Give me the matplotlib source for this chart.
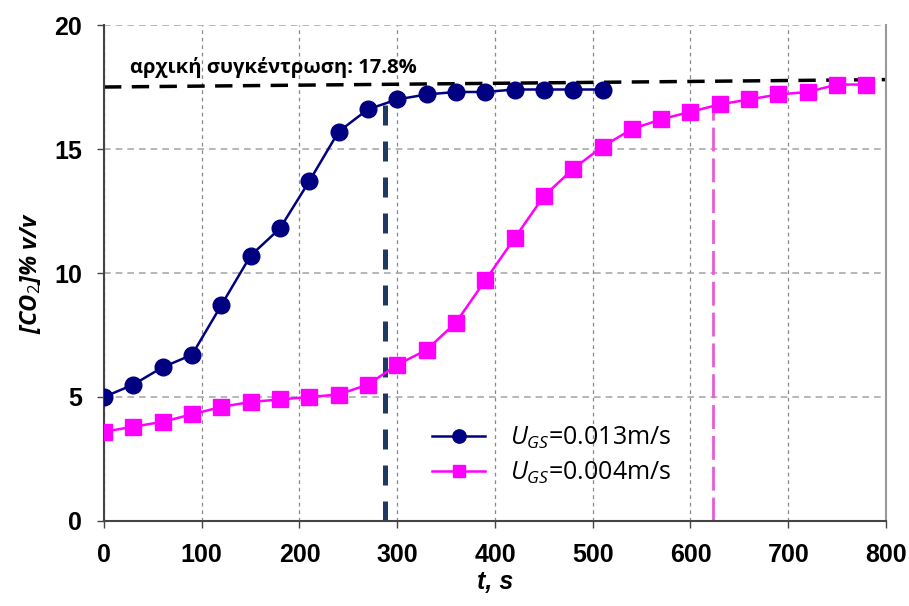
import matplotlib.pyplot as plt

plt.rcParams['mathtext.fontset'] = 'custom'
plt.rcParams['mathtext.it'] = 'Open Sans:italic'
plt.rcParams['mathtext.rm'] = 'Open Sans'
plt.rcParams['mathtext.bf'] = 'Open Sans:bold'

# time (s) and CO2 concentration (% v/v)
t_fast = [0, 30, 60, 90, 120, 150, 180, 210, 240, 270, 300, 330, 360, 390, 420, 450, 480, 510]
co2_fast = [5.0, 5.5, 6.2, 6.7, 8.7, 10.7, 11.8, 13.7, 15.7, 16.6, 17.0, 17.2, 17.3, 17.3, 17.4, 17.4, 17.4, 17.4]

t_slow = [0, 30, 60, 90, 120, 150, 180, 210, 240, 270, 300, 330, 360, 390, 420, 450, 480,
          510, 540, 570, 600, 630, 660, 690, 720, 750, 780]
co2_slow = [3.6, 3.8, 4.0, 4.3, 4.6, 4.8, 4.9, 5.0, 5.1, 5.5, 6.3, 6.9, 8.0, 9.7, 11.4, 13.1, 14.2,
            15.1, 15.8, 16.2, 16.5, 16.8, 17.0, 17.2, 17.3, 17.6, 17.6]

init_x = [0, 800]
init_y = [17.5, 17.8]
t_break_fast = 287
t_break_slow = 623
level_fast = 17.0
level_slow = 16.8

fig = plt.figure(figsize=(9.09, 6.06), dpi=100)
ax = fig.add_axes([0.1144, 0.1403, 0.8603, 0.8184])

ax.set_xlim(0, 800)
ax.set_ylim(0, 20)
ax.set_xticks(range(0, 801, 100))
ax.set_yticks(range(0, 21, 5))

ax.grid(axis='x', color='#888888', linestyle=(0, (3, 3)), linewidth=0.9)
ax.grid(axis='y', color='#aaaaaa', linestyle=(0, (4, 3)), linewidth=1.2)
ax.set_axisbelow(True)

ax.plot(init_x, init_y, color='black', linestyle=(0, (5, 3)), linewidth=2.5, zorder=2)
ax.text(27, 18.3, 'αρχική συγκέντρωση: 17.8%', fontsize=14.5, fontweight='bold',
        family='Open Sans', ha='left', va='center')

# break-through markers
ax.plot([t_break_fast, t_break_fast], [0, level_fast], color='#1f3864',
        linestyle=(0, (4, 3.2)), linewidth=3.6, zorder=2)
ax.plot([t_break_slow, t_break_slow], [0, level_slow], color='#ea5bd6',
        linestyle=(0, (8.6, 2.5)), linewidth=2, zorder=2)

ax.plot(t_fast, co2_fast, color='#000080', marker='o', markersize=12, linewidth=1.8,
        label='$U_{GS}$=0.013m/s', zorder=3)
ax.plot(t_slow, co2_slow, color='#ff00ff', marker='s', markersize=11.5, linewidth=1.8,
        label='$U_{GS}$=0.004m/s', zorder=3)

for s in ['left', 'bottom']:
    ax.spines[s].set_color('#444444')
    ax.spines[s].set_linewidth(1.5)
ax.spines['right'].set_color('#999999')
ax.spines['right'].set_linewidth(1.5)
ax.spines['top'].set_visible(False)

ax.tick_params(axis='both', direction='out', length=5, width=1, color='#444444', pad=11)
for lab in ax.get_xticklabels() + ax.get_yticklabels():
    lab.set_fontsize(18)
    lab.set_fontweight('bold')
    lab.set_family('Liberation Sans')

ax.set_xlabel('t, s', fontsize=18, fontweight='bold', style='italic', family='Liberation Sans', labelpad=2)
ax.set_ylabel('[CO$_2$]% v/v', fontsize=17, fontweight='bold', style='italic', family='Open Sans', labelpad=8)

leg = ax.legend(loc='center left', bbox_to_anchor=(0.42, 0.133), frameon=False,
                prop={'family': 'Open Sans', 'size': 18}, handlelength=2.1,
                handletextpad=1.0, labelspacing=0.35, borderpad=0, borderaxespad=0,
                markerscale=0.8)

fig.savefig('out.png', dpi=100)
